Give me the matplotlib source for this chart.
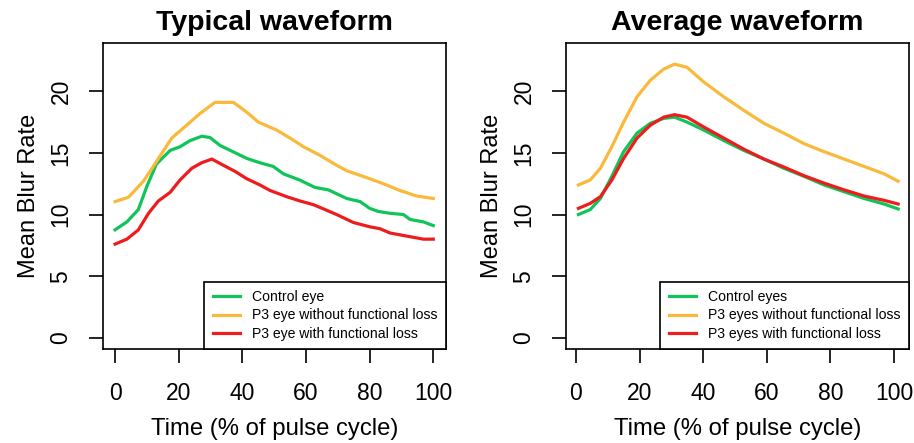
import numpy as np
import matplotlib.pyplot as plt

plt.rcParams['font.family'] = ['Liberation Sans', 'DejaVu Sans']

# Typical waveform (left panel)
typ_ctrl_x = [0, 3.7, 7.3, 10, 13, 17.3, 20.4, 23.6, 27.2, 29.8, 33, 37, 41.4, 45.5, 49.7,
              52.9, 58, 62.8, 67, 72.8, 77, 80, 82.7, 86.4, 90.6, 92.7, 96.9, 100]
typ_ctrl_y = [8.76, 9.4, 10.4, 12.3, 14.1, 15.2, 15.5, 16.0, 16.35, 16.25, 15.6, 15.1, 14.55,
              14.2, 13.9, 13.3, 12.8, 12.2, 12.0, 11.3, 11.05, 10.5, 10.25, 10.1, 10.0, 9.6, 9.4, 9.1]

typ_nofl_x = [0, 4.2, 8.9, 12, 17.8, 22.5, 26.7, 31.4, 37.2, 41.4, 45, 50.8, 55, 59.2,
              64.4, 68.6, 72.8, 79, 84.3, 89.5, 94.8, 100]
typ_nofl_y = [11.05, 11.4, 12.7, 13.9, 16.2, 17.25, 18.2, 19.1, 19.1, 18.3, 17.5, 16.85,
              16.2, 15.5, 14.8, 14.15, 13.55, 13.0, 12.5, 11.95, 11.5, 11.3]

typ_fl_x = [0, 3.7, 7.3, 10.5, 13.6, 17.3, 20.4, 24.1, 27.2, 30.4, 34, 37.7, 41.4, 45.5,
            48.7, 53.9, 58.1, 62.3, 66, 69.6, 74.9, 80.1, 83.2, 86.4, 92.7, 96.9, 100]
typ_fl_y = [7.6, 8.0, 8.75, 10.1, 11.1, 11.8, 12.8, 13.75, 14.2, 14.5, 14.0, 13.5, 12.9,
            12.4, 11.95, 11.45, 11.1, 10.8, 10.4, 10.0, 9.35, 9.0, 8.85, 8.5, 8.2, 8.0, 8.0]

# Average waveform (right panel)
avg_x = [0.8, 4.5, 7.7, 11.3, 15, 19.2, 23.4, 27.6, 31, 34.9, 40.2, 46.5, 52.8, 59.1,
         65.4, 71.7, 78, 84.3, 90.6, 96.9, 101.3]
avg_ctrl = [10.0, 10.4, 11.3, 13.1, 15.1, 16.6, 17.4, 17.8, 17.9, 17.5, 16.85, 16.0, 15.2,
            14.5, 13.75, 13.1, 12.4, 11.85, 11.3, 10.85, 10.45]
avg_nofl = [12.4, 12.8, 13.75, 15.5, 17.5, 19.55, 20.9, 21.8, 22.2, 21.95, 20.75, 19.55,
            18.45, 17.4, 16.6, 15.75, 15.1, 14.5, 13.9, 13.3, 12.7]
avg_fl = [10.5, 10.9, 11.45, 12.8, 14.55, 16.2, 17.25, 17.9, 18.1, 17.9, 17.1, 16.2, 15.3,
          14.5, 13.85, 13.15, 12.55, 12.0, 11.5, 11.15, 10.85]

green = '#10C45A'
orange = '#F9B93B'
red = '#EE1C1C'

fig = plt.figure(figsize=(9.14, 4.43), dpi=100)
ax1 = fig.add_axes([0.1127, 0.212, 0.3753, 0.691])
ax2 = fig.add_axes([0.6193, 0.212, 0.3752, 0.691])


def style(ax, title, xlim):
    ax.set_xlim(*xlim)
    ax.set_ylim(-0.92, 23.92)
    ax.set_xticks([0, 20, 40, 60, 80, 100])
    ax.set_yticks([0, 5, 10, 15, 20])
    ax.tick_params(axis='both', labelsize=16.5, length=10, width=1.2, pad=12)
    ax.tick_params(axis='x', pad=14)
    for lab in ax.get_yticklabels():
        lab.set_rotation(90)
        lab.set_va('center')
    for s in ax.spines.values():
        s.set_linewidth(1.2)
    ax.set_title(title, fontsize=20.5, fontweight='bold', pad=9)
    ax.set_xlabel('Time (% of pulse cycle)', fontsize=17.2, labelpad=9)
    ax.set_ylabel('Mean Blur Rate', fontsize=17, labelpad=7)


ax1.plot(typ_ctrl_x, typ_ctrl_y, color=green, lw=2.3, label='Control eye')
ax1.plot(typ_nofl_x, typ_nofl_y, color=orange, lw=2.3, label='P3 eye without functional loss')
ax1.plot(typ_fl_x, typ_fl_y, color=red, lw=2.3, label='P3 eye with functional loss')
style(ax1, 'Typical waveform', (-3.8, 104))

ax2.plot(avg_x, avg_ctrl, color=green, lw=2.3, label='Control eyes')
ax2.plot(avg_x, avg_nofl, color=orange, lw=2.3, label='P3 eyes without functional loss')
ax2.plot(avg_x, avg_fl, color=red, lw=2.3, label='P3 eyes with functional loss')
style(ax2, 'Average waveform', (-3.1, 104.7))

for ax in (ax1, ax2):
    leg = ax.legend(loc='lower right', borderaxespad=0, fontsize=10.1, fancybox=False,
                    handlelength=1.95, handletextpad=0.85, labelspacing=0.3,
                    borderpad=0.6, framealpha=1)
    leg.get_frame().set_edgecolor('black')
    leg.get_frame().set_linewidth(1.2)

fig.savefig('out.png', dpi=100)
